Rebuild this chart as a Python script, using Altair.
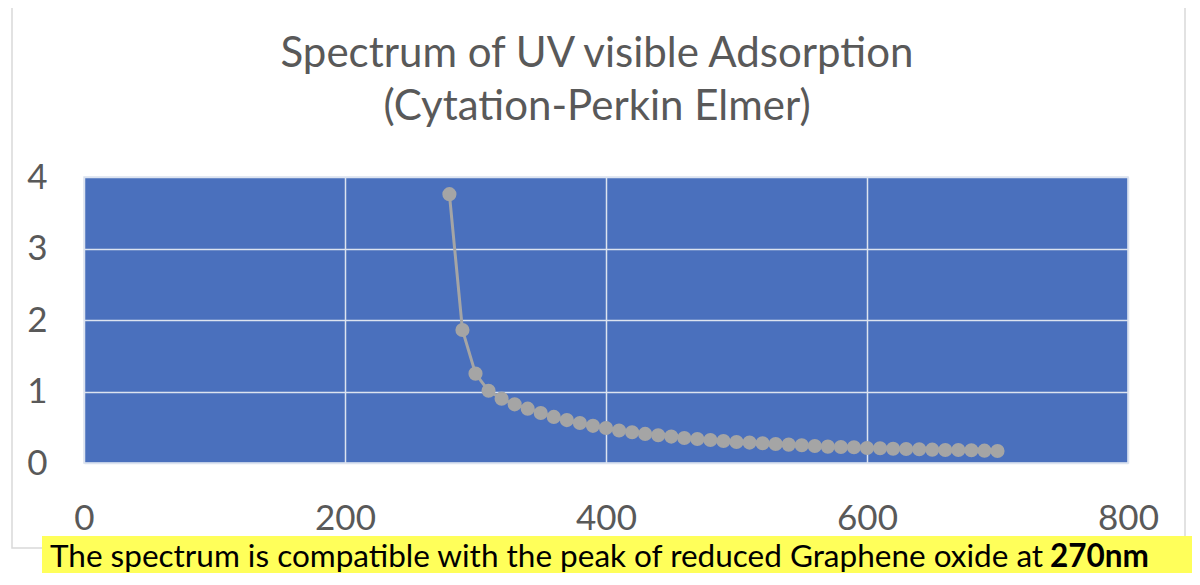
import altair as alt
import pandas as pd

wavelength = [280, 290, 300, 310, 320, 330, 340, 350, 360, 370, 380, 390, 400,
              410, 420, 430, 440, 450, 460, 470, 480, 490, 500, 510, 520, 530,
              540, 550, 560, 570, 580, 590, 600, 610, 620, 630, 640, 650, 660,
              670, 680, 690, 700]
absorbance = [3.76, 1.86, 1.25, 1.01, 0.90, 0.82, 0.76, 0.70, 0.645, 0.60, 0.56,
              0.52, 0.49, 0.455, 0.43, 0.407, 0.388, 0.369, 0.35, 0.336, 0.322,
              0.308, 0.294, 0.285, 0.276, 0.266, 0.257, 0.248, 0.238, 0.229,
              0.224, 0.22, 0.21, 0.206, 0.20, 0.196, 0.192, 0.187, 0.182, 0.182,
              0.178, 0.173, 0.168]
x_ticks = [0, 200, 400, 600, 800]
y_ticks = [0, 1, 2, 3, 4]
title_line1 = "Spectrum of UV visible Adsorption"
title_line2 = "(Cytation-Perkin Elmer)"
caption_plain = "The spectrum is compatible with the peak of reduced Graphene oxide at"
caption_bold = "270nm"

FONT = "Lato"
GREY = "#595959"

df = pd.DataFrame({"wl": wavelength, "abs": absorbance})
one = pd.DataFrame({"a": [0]})

frame = alt.Chart(one).mark_rect(
    filled=False, stroke="#D9D9D9", strokeWidth=1.5, clip=False
).encode(x=alt.value(-72), x2=alt.value(1101), y=alt.value(-172), y2=alt.value(371))

yellow = alt.Chart(one).mark_rect(
    fill="#FFFF5A", clip=False
).encode(x=alt.value(-42), x2=alt.value(1120), y=alt.value(359), y2=alt.value(404))

axis_common = dict(grid=True, domain=False, ticks=False, labelFontSize=35,
                   labelColor=GREY, labelFont=FONT, gridColor="#DCE3F0",
                   gridWidth=1.5, labelFlush=False)

line = alt.Chart(df).mark_line(
    color="#A5A5A5", strokeWidth=3,
    point=alt.OverlayMarkDef(size=200, filled=True, color="#A5A5A5", opacity=1),
).encode(
    x=alt.X("wl:Q", scale=alt.Scale(domain=[0, 800], nice=False), title=None,
            axis=alt.Axis(values=x_ticks, labelPadding=38, **axis_common)),
    y=alt.Y("abs:Q", scale=alt.Scale(domain=[0, 4], nice=False), title=None,
            axis=alt.Axis(values=y_ticks, labelPadding=37, **axis_common)),
)

t1 = alt.Chart(pd.DataFrame({"t": [title_line1]})).mark_text(
    align="center", baseline="alphabetic", font=FONT, fontSize=42, color=GREY
).encode(x=alt.value(513), y=alt.value(-110), text="t:N")

t2 = alt.Chart(pd.DataFrame({"t": [title_line2]})).mark_text(
    align="center", baseline="alphabetic", font=FONT, fontSize=42, color=GREY
).encode(x=alt.value(513), y=alt.value(-57), text="t:N")

cap1 = alt.Chart(pd.DataFrame({"t": [caption_plain]})).mark_text(
    align="left", baseline="alphabetic", font=FONT, fontSize=31.5, color="#000000"
).encode(x=alt.value(-34), y=alt.value(390), text="t:N")

cap2 = alt.Chart(pd.DataFrame({"t": [caption_bold]})).mark_text(
    align="left", baseline="alphabetic", font=FONT, fontSize=31.5, fontWeight="bold",
    color="#000000"
).encode(x=alt.value(966), y=alt.value(390), text="t:N")

chart = alt.layer(frame, line, yellow, t1, t2, cap1, cap2).properties(
    width=1044, height=286,
    autosize=alt.AutoSizeParams(type="none"),
    padding={"left": 76, "top": 169, "right": 64, "bottom": 110},
).configure_view(fill="#4A70BD", stroke="#DCE3F0", strokeWidth=1.5)

chart.save("out.html", embed_options={"renderer": "svg", "actions": False})
